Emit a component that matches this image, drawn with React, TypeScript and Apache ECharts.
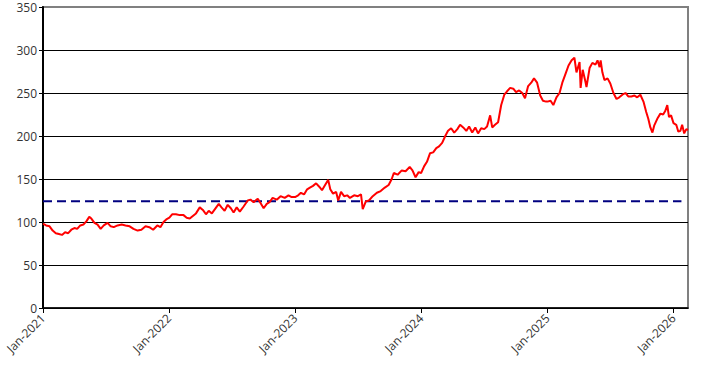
import React, { useEffect, useRef } from "react";
import * as echarts from "echarts";

const dates: string[] = [
  "2021-01-01","2021-01-10","2021-01-20","2021-01-29","2021-02-07","2021-02-16","2021-02-25","2021-03-06","2021-03-15","2021-03-24",
  "2021-04-02","2021-04-10","2021-04-19","2021-04-28","2021-05-07","2021-05-15","2021-05-21","2021-05-30","2021-06-08","2021-06-17",
  "2021-06-26","2021-07-07","2021-07-16","2021-07-25","2021-08-05","2021-08-17","2021-08-28","2021-09-09","2021-09-20","2021-10-02",
  "2021-10-13","2021-10-25","2021-11-05","2021-11-16","2021-11-28","2021-12-07","2021-12-16","2021-12-24",
  "2022-01-02","2022-01-10","2022-01-21","2022-02-01","2022-02-12","2022-02-21","2022-03-02","2022-03-11","2022-03-20","2022-03-31",
  "2022-04-09","2022-04-18","2022-04-26","2022-05-05","2022-05-14","2022-05-25","2022-06-02","2022-06-11","2022-06-20","2022-06-29",
  "2022-07-07","2022-07-16","2022-07-25","2022-08-05","2022-08-17","2022-08-25","2022-09-03","2022-09-15","2022-09-23","2022-10-02",
  "2022-10-11","2022-10-19","2022-10-28","2022-11-09","2022-11-20","2022-12-02","2022-12-13","2022-12-22",
  "2023-01-01","2023-01-10","2023-01-18","2023-01-27","2023-02-05","2023-02-13","2023-02-22","2023-03-03","2023-03-12","2023-03-20",
  "2023-03-29","2023-04-07","2023-04-13","2023-04-21","2023-04-30","2023-05-06","2023-05-14","2023-05-23","2023-06-01","2023-06-09",
  "2023-06-21","2023-07-02","2023-07-11","2023-07-16","2023-07-25","2023-08-03","2023-08-14","2023-08-26","2023-09-06","2023-09-18",
  "2023-09-29","2023-10-08","2023-10-14","2023-10-25","2023-11-06","2023-11-17","2023-11-29","2023-12-07","2023-12-16","2023-12-25",
  "2024-01-01","2024-01-10","2024-01-18","2024-01-27","2024-02-05","2024-02-14","2024-02-22","2024-03-02","2024-03-11","2024-03-19",
  "2024-03-28","2024-04-06","2024-04-15","2024-04-23","2024-05-02","2024-05-11","2024-05-19","2024-05-28","2024-06-06","2024-06-14",
  "2024-06-23","2024-07-02","2024-07-10","2024-07-19","2024-07-25","2024-08-02","2024-08-11","2024-08-20","2024-08-29","2024-09-06",
  "2024-09-15","2024-09-24","2024-10-02","2024-10-11","2024-10-20","2024-10-28","2024-11-06","2024-11-15","2024-11-23","2024-12-02",
  "2024-12-11","2024-12-19","2024-12-28",
  "2025-01-01","2025-01-10","2025-01-18","2025-01-27","2025-02-05","2025-02-13","2025-02-22","2025-03-03","2025-03-12","2025-03-20",
  "2025-03-26","2025-04-04","2025-04-07","2025-04-13","2025-04-21","2025-04-24","2025-05-03","2025-05-11","2025-05-20","2025-05-26",
  "2025-06-01","2025-06-04","2025-06-09","2025-06-15","2025-06-24","2025-07-02","2025-07-11","2025-07-20","2025-07-28","2025-08-06",
  "2025-08-15","2025-08-23","2025-09-01","2025-09-10","2025-09-18","2025-09-27","2025-10-06","2025-10-14","2025-10-20","2025-10-26",
  "2025-11-01","2025-11-06","2025-11-15","2025-11-24","2025-12-02","2025-12-08","2025-12-14","2025-12-19","2025-12-25",
  "2026-01-01","2026-01-09","2026-01-15","2026-01-21","2026-01-26","2026-02-01","2026-02-07","2026-02-12",
];

const values: number[] = [
  98, 96, 95, 90, 87, 86, 85, 88, 87, 91,
  93, 92, 96, 97, 101, 106, 104, 99, 97, 92,
  96, 99, 95, 94, 96, 97, 96, 95, 92, 90,
  91, 95, 94, 91, 96, 94, 100, 103,
  105, 109, 109, 108, 108, 105, 104, 107, 110, 117,
  114, 109, 113, 110, 115, 121, 117, 113, 120, 116,
  111, 117, 112, 118, 125, 126, 123, 127, 122, 116,
  121, 123, 128, 126, 130, 128, 131, 129,
  129, 131, 134, 132, 138, 140, 142, 145, 141, 137,
  143, 149, 138, 133, 135, 125, 135, 130, 131, 128,
  131, 130, 132, 115, 124, 125, 130, 134, 136, 140,
  143, 150, 157, 155, 160, 159, 164, 160, 152, 158,
  157, 165, 170, 180, 181, 186, 188, 192, 200, 206,
  209, 204, 208, 213, 210, 206, 211, 204, 210, 203,
  209, 208, 211, 224, 210, 213, 216, 236, 248, 252,
  256, 255, 251, 253, 250, 244, 258, 262, 267, 262,
  247, 241, 240,
  240, 241, 236, 245, 250, 262, 272, 282, 288, 291,
  274, 286, 256, 277, 263, 257, 279, 285, 283, 288,
  280, 288, 274, 265, 267, 261, 250, 243, 245, 248,
  250, 246, 246, 247, 245, 248, 240, 228, 220, 210,
  204, 212, 220, 226, 225, 229, 236, 222, 224,
  215, 213, 205, 206, 213, 203, 208, 207,
];

const benchmarkDates: string[] = ["2021-01-01", "2026-01-24"];
const benchmarkValues: number[] = [124, 124];

const xMin = "2021-01-01";
const xMax = "2026-02-12";
const yTicks: number[] = [0, 50, 100, 150, 200, 250, 300, 350];
const monthNames = ["Jan","Feb","Mar","Apr","May","Jun","Jul","Aug","Sep","Oct","Nov","Dec"];

export default function App() {
  const ref = useRef<HTMLDivElement>(null);
  useEffect(() => {
    if (!ref.current) return;
    const chart = echarts.init(ref.current, null, { renderer: "svg" });
    const YEAR = 365 * 24 * 3600 * 1000;
    chart.setOption({
      animation: false,
      backgroundColor: "#ffffff",
      grid: {
        left: 43, right: 19, top: 7, bottom: 60,
        show: true, borderColor: "#808080", borderWidth: 2,
        containLabel: false, outerBoundsMode: "none",
      },
      xAxis: {
        type: "time",
        min: xMin,
        max: xMax,
        minInterval: YEAR,
        maxInterval: YEAR,
        axisLine: { show: true, lineStyle: { color: "#000", width: 1.5 } },
        axisTick: { show: true, length: 5, lineStyle: { color: "#000", width: 1 } },
        splitLine: { show: false },
        axisLabel: {
          rotate: 45,
          margin: 8,
          color: "#333",
          fontFamily: "Open Sans",
          fontSize: 12,
          hideOverlap: false,
          formatter: (v: number) => {
            const d = new Date(v);
            return `${monthNames[d.getMonth()]}-${d.getFullYear()}`;
          },
        },
      },
      yAxis: {
        type: "value",
        min: yTicks[0],
        max: yTicks[yTicks.length - 1],
        interval: 50,
        axisLine: { show: true, lineStyle: { color: "#000", width: 2 } },
        axisTick: { show: true, length: 4, lineStyle: { color: "#000" } },
        splitLine: {
          show: true,
          showMaxLine: false,
          lineStyle: { color: "#000", width: 1 },
        },
        axisLabel: { color: "#333", fontFamily: "Open Sans", fontSize: 12, margin: 6 },
      },
      series: [
        {
          type: "line",
          data: benchmarkDates.map((d, i) => [d, benchmarkValues[i]]),
          symbol: "none",
          lineStyle: { color: "#000080", width: 2, type: [9, 5] },
          silent: true,
          z: 2,
        },
        {
          type: "line",
          data: dates.map((d, i) => [d, values[i]]),
          symbol: "none",
          lineStyle: { color: "#ff0000", width: 2 },
          silent: true,
          z: 3,
        },
      ],
    });
    return () => chart.dispose();
  }, []);
  return (
    <div
      ref={ref}
      style={{ position: "absolute", left: 0, top: 0, width: 707, height: 368 }}
    />
  );
}
